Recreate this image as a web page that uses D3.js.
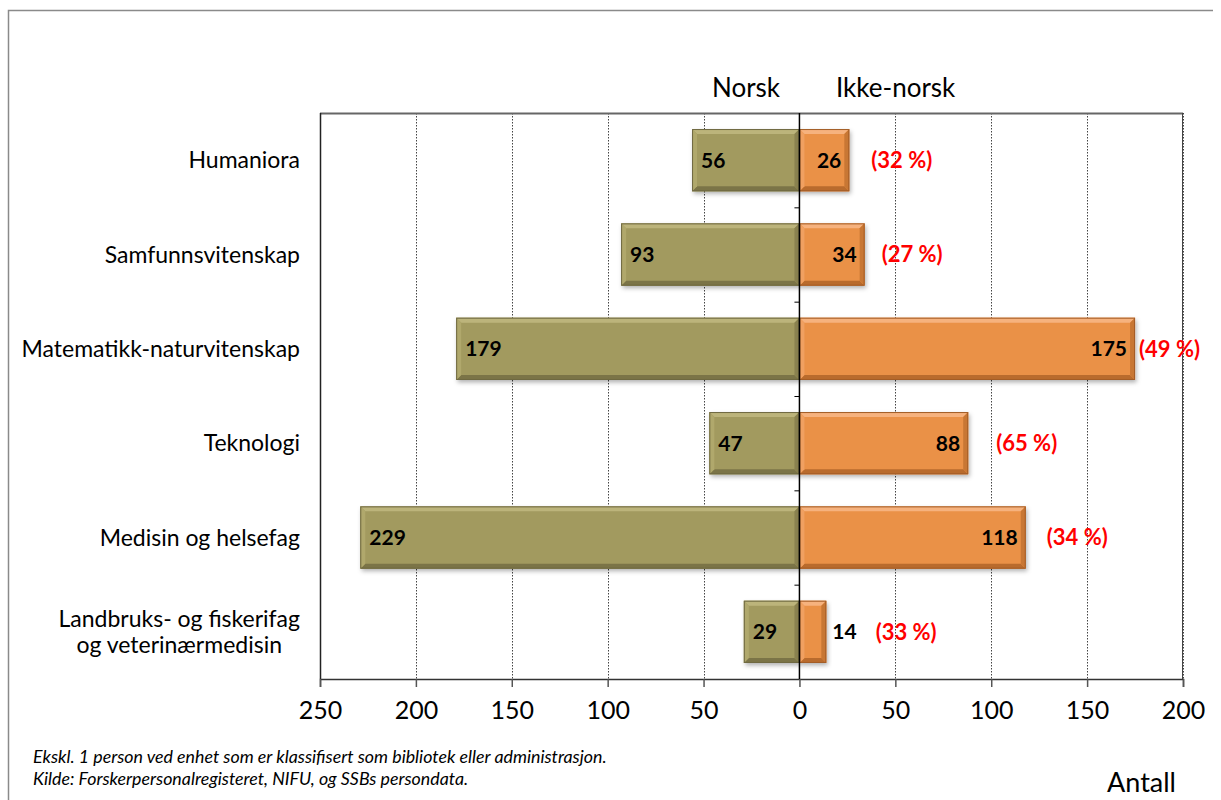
<!DOCTYPE html>
<html><head><meta charset="utf-8">
<script src="https://cdn.jsdelivr.net/npm/d3@7"></script>
<style>
html,body{margin:0;padding:0;background:#fff;}
svg{display:block;font-family:Lato, "Open Sans", sans-serif;}
</style></head>
<body>
<svg id="chart" width="1221" height="800"></svg>
<script>
// ---- data ----
const categories = ["Humaniora","Samfunnsvitenskap","Matematikk-naturvitenskap","Teknologi","Medisin og helsefag","Landbruks- og fiskerifag|og veterinærmedisin"];
const norsk = [56, 93, 179, 47, 229, 29];
const ikkeNorsk = [26, 34, 175, 88, 118, 14];
const pctLabels = ["(32 %)","(27 %)","(49 %)","(65 %)","(34 %)","(33 %)"];
const tickValues = [-250,-200,-150,-100,-50,0,50,100,150,200];
const seriesNames = ["Norsk","Ikke-norsk"];
const axisTitle = "Antall";
const notes = ["Ekskl. 1 person ved enhet som er klassifisert som bibliotek eller administrasjon.","Kilde: Forskerpersonalregisteret, NIFU, og SSBs persondata."];
// layout nudges for percentage labels (px gap after bar/label end)
const pctGap = [22, 17, 4, 28, 21, 19];

const svg = d3.select("#chart");
const L = 320, R = 1183, T = 113, B = 679;

const x = d3.scaleLinear().domain([-250, 200]).range([L, R]);
const y = d3.scaleBand().domain(categories).range([T, B]).padding(0);

// outer border
svg.append("path").attr("d", `M8.5,800 L8.5,10.5 L1213,10.5`).attr("fill","none").attr("stroke","#8a8a8a").attr("stroke-width",1.5);

const defs = svg.append("defs");
const f = defs.append("filter").attr("id","shadow").attr("x","-10%").attr("y","-20%").attr("width","130%").attr("height","150%");
f.append("feDropShadow").attr("dx",1.5).attr("dy",2.5).attr("stdDeviation",2).attr("flood-color","#000").attr("flood-opacity",0.3);

// grid lines (dotted)
svg.append("g").selectAll("line").data(tickValues.filter(d => d !== 0 && d !== -250))
  .join("line")
  .attr("x1", d => Math.round(x(d)) + 0.5).attr("x2", d => Math.round(x(d)) + 0.5)
  .attr("y1", T).attr("y2", B)
  .attr("stroke", "#444").attr("stroke-width", 1).attr("stroke-dasharray", "1.5,1.5");

// plot frame
svg.append("line").attr("x1", L).attr("x2", R).attr("y1", T + 0.5).attr("y2", T + 0.5).attr("stroke", "#666").attr("stroke-width", 2);
svg.append("line").attr("x1", L + 0.5).attr("x2", L + 0.5).attr("y1", T).attr("y2", B).attr("stroke", "#222").attr("stroke-width", 1.5);
svg.append("line").attr("x1", R - 0.5).attr("x2", R - 0.5).attr("y1", T).attr("y2", B).attr("stroke", "#444").attr("stroke-width", 1);

// bottom axis
const xAxis = d3.axisBottom(x).tickValues(tickValues).tickSize(8).tickFormat(d => Math.abs(d));
const gx = svg.append("g").attr("transform", `translate(0,${B})`).call(xAxis);
gx.select(".domain").attr("stroke", "#333").attr("stroke-width", 1.5);
gx.selectAll(".tick line").attr("stroke", "#555").attr("stroke-width", 1.5);
gx.selectAll(".tick text").attr("font-family", "Lato, sans-serif").attr("font-size", 25).attr("fill", "#000").attr("dy", "1.15em");

// bars with bevel
const bh = y.bandwidth() * 0.66;
function bevelBar(g, x0, x1, cy, colors) {
  const w = x1 - x0, h = bh, y0 = cy - h / 2, b = Math.min(5, w / 3);
  const gg = g.append("g");
  gg.append("rect").attr("x", x0).attr("y", y0).attr("width", w).attr("height", h).attr("fill", colors.main).attr("filter", "url(#shadow)");
  gg.append("path").attr("d", `M${x0},${y0}L${x1},${y0}L${x1-b},${y0+b}L${x0+b},${y0+b}Z`).attr("fill", colors.top);
  gg.append("path").attr("d", `M${x0},${y0+h}L${x1},${y0+h}L${x1-b},${y0+h-b}L${x0+b},${y0+h-b}Z`).attr("fill", colors.bottom);
  gg.append("path").attr("d", `M${x0},${y0}L${x0+b},${y0+b}L${x0+b},${y0+h-b}L${x0},${y0+h}Z`).attr("fill", colors.left);
  gg.append("path").attr("d", `M${x1},${y0}L${x1-b},${y0+b}L${x1-b},${y0+h-b}L${x1},${y0+h}Z`).attr("fill", colors.right);
  gg.append("rect").attr("x", x0 + 0.5).attr("y", y0 + 0.5).attr("width", w - 1).attr("height", h - 1).attr("fill", "none").attr("stroke", colors.edge).attr("stroke-width", 1);
}
const olive = {main: "#a29a5e", top: "#bcb47b", bottom: "#7b7447", left: "#b0a86c", right: "#8a8250", edge: "#6f6942"};
const orange = {main: "#ea9147", top: "#f6b27e", bottom: "#b96b2d", left: "#f0a061", right: "#c87734", edge: "#a35d27"};

const gb = svg.append("g");
categories.forEach((c, i) => {
  const cy = y(c) + y.bandwidth() / 2;
  bevelBar(gb, x(-norsk[i]), x(0), cy, olive);
  bevelBar(gb, x(0), x(ikkeNorsk[i]), cy, orange);
});

// zero line
svg.append("line").attr("x1", x(0)).attr("x2", x(0)).attr("y1", T).attr("y2", B).attr("stroke", "#000").attr("stroke-width", 1.5);
// small category ticks on zero axis
svg.append("g").selectAll("line").data(categories.slice(1)).join("line")
  .attr("x1", x(0) - 5).attr("x2", x(0)).attr("y1", d => y(d) + 0.5).attr("y2", d => y(d) + 0.5)
  .attr("stroke", "#000").attr("stroke-width", 1);

// value labels
const lab = svg.append("g").attr("font-family", "Lato, sans-serif").attr("font-weight", "bold").attr("font-size", 21);
categories.forEach((c, i) => {
  const cy = y(c) + y.bandwidth() / 2;
  lab.append("text").attr("x", x(-norsk[i]) + 9).attr("y", cy).attr("dy", "0.36em").attr("fill", "#000").text(norsk[i]);
  const wOr = x(ikkeNorsk[i]) - x(0);
  let endX;
  const t = lab.append("text").attr("y", cy).attr("dy", "0.36em").attr("fill", "#000").text(ikkeNorsk[i]);
  if (wOr > 40) {
    t.attr("x", x(ikkeNorsk[i]) - 8).attr("text-anchor", "end");
    endX = x(ikkeNorsk[i]);
  } else {
    t.attr("x", x(ikkeNorsk[i]) + 6).attr("text-anchor", "start");
    endX = x(ikkeNorsk[i]) + 6 + t.node().getComputedTextLength();
  }
  lab.append("text").attr("x", endX + pctGap[i]).attr("y", cy).attr("dy", "0.36em").attr("fill", "#ff0000").attr("font-size", 22).text(pctLabels[i]);
});

// category labels
const cl = svg.append("g").attr("font-family", "Lato, sans-serif").attr("font-size", 23).attr("fill", "#000");
categories.forEach(c => {
  const cy = y(c) + y.bandwidth() / 2;
  const lines = c.split("|");
  if (lines.length === 1) {
    cl.append("text").attr("x", 300).attr("y", cy).attr("dy", "0.36em").attr("text-anchor", "end").text(c);
  } else {
    const t = cl.append("text").attr("text-anchor", "middle");
    lines.forEach((ln, k) => t.append("tspan").attr("x", 0).attr("y", cy + (k - (lines.length - 1) / 2) * 26).attr("dy", "0.36em").text(ln));
    const w = t.node().getBBox().width;
    t.selectAll("tspan").attr("x", 300 - w / 2);
  }
});

// series headers
svg.append("text").attr("x", 780).attr("y", 88).attr("dy", "0.36em").attr("text-anchor", "end").attr("font-size", 26).text(seriesNames[0]);
svg.append("text").attr("x", 836).attr("y", 88).attr("dy", "0.36em").attr("text-anchor", "start").attr("font-size", 26).text(seriesNames[1]);

// axis title
svg.append("text").attr("x", 1176).attr("y", 782).attr("dy", "0.36em").attr("text-anchor", "end").attr("font-size", 27).text(axisTitle);

// notes
const nt = svg.append("g").attr("font-size", 17.8).attr("font-style", "italic");
notes.forEach((n, k) => nt.append("text").attr("x", 33).attr("y", 757 + k * 22).attr("dy", "0.36em").text(n));
</script>
</body></html>
